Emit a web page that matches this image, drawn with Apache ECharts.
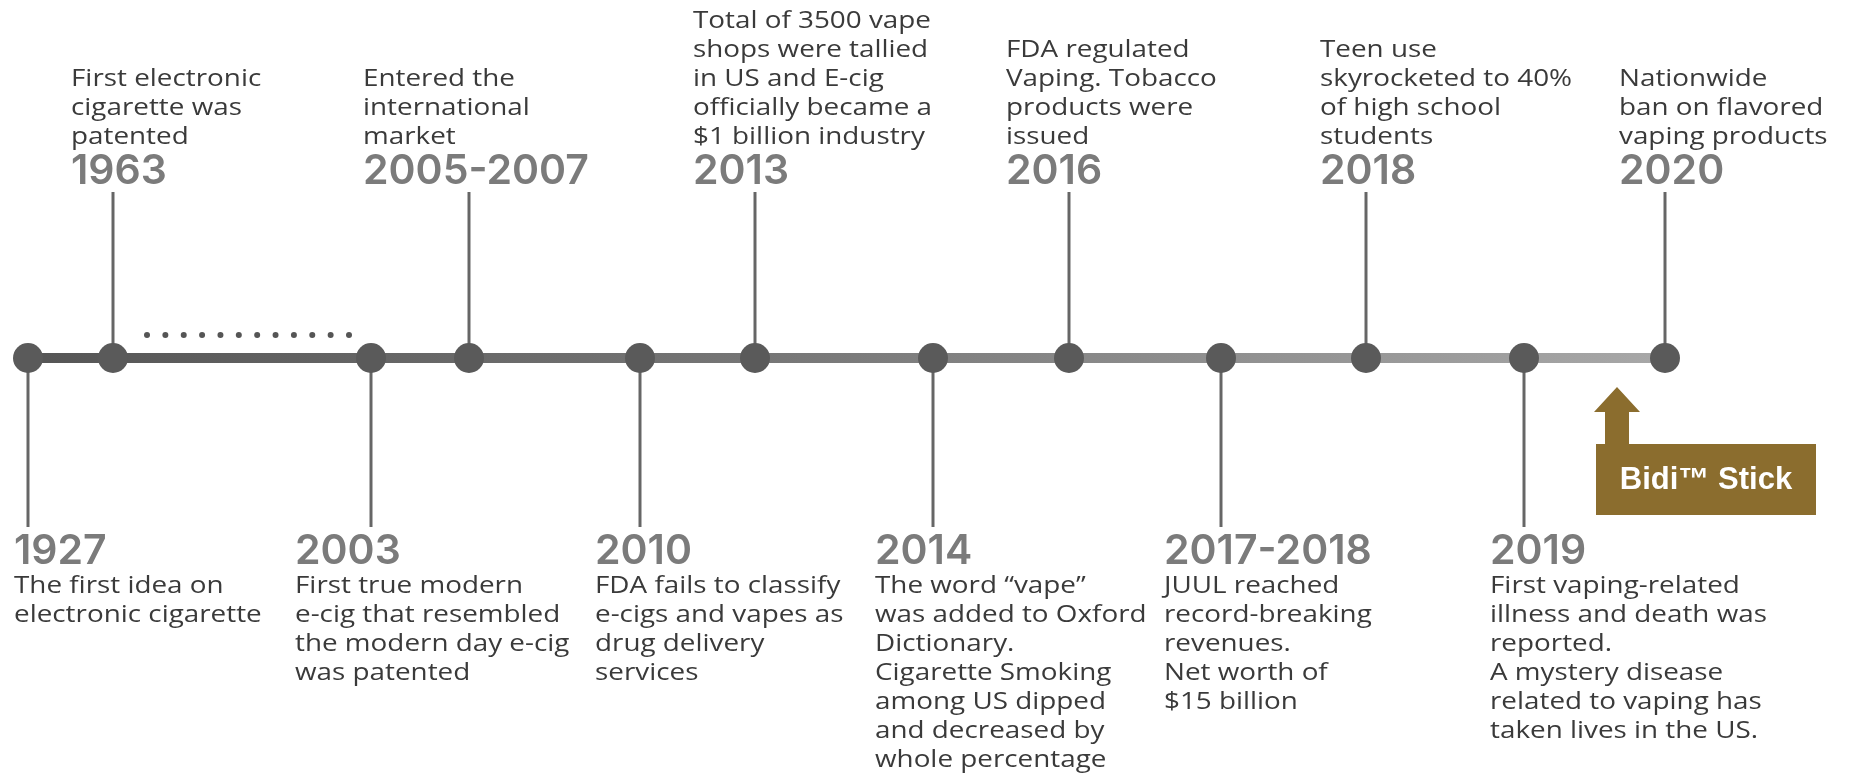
<!DOCTYPE html>
<html>
<head>
<meta charset="utf-8">
<title>E-cigarette timeline</title>
<script src="https://cdn.jsdelivr.net/npm/echarts@6/dist/echarts.min.js"></script>
<style>
  html, body { margin: 0; padding: 0; background: #fff; }
  #timeline { width: 1849px; height: 776px; }
</style>
</head>
<body>
<div id="timeline"></div>
<script>
// timeline events, left to right
var years = ['1927', '1963', '2003', '2005-2007', '2010', '2013', '2014', '2016', '2017-2018', '2018', '2019', '2020'];
// where each event sits along the timeline (units of the x axis)
var timelinePos = [28, 113, 371, 469, 640, 755, 933, 1069, 1221, 1366, 1524, 1665];
var sides = ['below', 'above', 'below', 'above', 'below', 'above', 'below', 'above', 'below', 'above', 'below', 'above'];
var descriptions = [
    ['The first idea on', 'electronic cigarette'],
    ['First electronic', 'cigarette was', 'patented'],
    ['First true modern', 'e-cig that resembled', 'the modern day e-cig', 'was patented'],
    ['Entered the', 'international', 'market'],
    ['FDA fails to classify', 'e-cigs and vapes as', 'drug delivery', 'services'],
    ['Total of 3500 vape', 'shops were tallied', 'in US and E-cig', 'officially became a', '$1 billion industry'],
    ['The word \u201Cvape\u201D', 'was added to Oxford', 'Dictionary.', 'Cigarette Smoking', 'among US dipped', 'and decreased by', 'whole percentage'],
    ['FDA regulated', 'Vaping. Tobacco', 'products were', 'issued'],
    ['JUUL reached', 'record-breaking', 'revenues.', 'Net worth of', '$15 billion'],
    ['Teen use', 'skyrocketed to 40%', 'of high school', 'students'],
    ['First vaping-related', 'illness and death was', 'reported.', 'A mystery disease', 'related to vaping has', 'taken lives in the US.'],
    ['Nationwide', 'ban on flavored', 'vaping products']
];
var calloutText = 'Bidi\u2122 Stick';
var calloutPos = 1617;

// layout (pixels on the hidden y axis)
var LINE_Y = 358;
var STEM_TOP = 192;
var STEM_BOTTOM = 527;
var LINE_H = 29;
var labelShift = [-14, -42, -76, -106, -45, -62, -58, -63, -57, -46, -34, -46];

var FONT = '"Open Sans", "DejaVu Sans", sans-serif';
var YEAR_FONT = '600 41px Inter, "Open Sans", sans-serif';

function renderEvent(params, api) {
    var i = api.value(1);
    var x = api.value(0);
    var up = sides[i] === 'above';
    var base = api.coord([x, LINE_Y]);
    var end = api.coord([x, up ? STEM_TOP : STEM_BOTTOM]);
    var tx = base[0] + labelShift[i];
    var children = [{
        type: 'line',
        shape: {x1: base[0], y1: base[1], x2: end[0], y2: end[1]},
        style: {stroke: '#666666', lineWidth: 3}
    }];
    var yearY, descY, descAlign;
    if (up) {
        yearY = end[1] - 20;
        descY = end[1] - 40;
        descAlign = 'bottom';
    } else {
        yearY = end[1] + 25;
        descY = end[1] + 45;
        descAlign = 'top';
    }
    children.push({
        type: 'text',
        x: tx,
        y: yearY,
        style: {
            text: years[i], x: 0, y: 0,
            font: YEAR_FONT, fill: '#7b7b7b',
            align: 'left', textAlign: 'left',
            verticalAlign: 'middle', textVerticalAlign: 'middle'
        }
    });
    // the source lettering is set wide, so stretch the text a little
    children.push({
        type: 'text',
        x: tx,
        y: descY,
        scaleX: 1.21,
        style: {
            text: descriptions[i].join('\n'), x: 0, y: 0,
            font: '23px ' + FONT, fill: '#3a3a3a', lineHeight: LINE_H,
            align: 'left', textAlign: 'left',
            verticalAlign: descAlign, textVerticalAlign: descAlign
        }
    });
    return {type: 'group', children: children};
}

// row of small dots marking the gap between 1963 and 2003
function renderGap(params, api) {
    var a = api.coord([api.value(0), LINE_Y]);
    var b = api.coord([api.value(1), LINE_Y]);
    var x0 = a[0] + 34, x1 = b[0] - 22, n = 12;
    var dots = [];
    for (var k = 0; k < n; k++) {
        dots.push({
            type: 'circle',
            shape: {cx: x0 + (x1 - x0) * k / (n - 1), cy: a[1] - 23, r: 3},
            style: {fill: '#555555'}
        });
    }
    return {type: 'group', children: dots};
}

function renderCallout(params, api) {
    var p = api.coord([api.value(0), LINE_Y]);
    var cx = p[0];
    var tipY = p[1] + 29;
    var headY = p[1] + 54;
    var boxTop = p[1] + 86;
    var color = '#8b6d2e';
    return {
        type: 'group',
        children: [{
            type: 'polygon',
            shape: {points: [[cx, tipY], [cx + 23, headY], [cx + 12, headY], [cx + 12, boxTop + 1],
                [cx - 12, boxTop + 1], [cx - 12, headY], [cx - 23, headY]]},
            style: {fill: color}
        }, {
            type: 'rect',
            shape: {x: cx - 21, y: boxTop, width: 220, height: 71},
            style: {fill: color}
        }, {
            type: 'text',
            style: {
                text: calloutText, x: cx + 89, y: boxTop + 36,
                font: 'bold 31px "Liberation Sans", Arial, sans-serif', fill: '#ffffff',
                align: 'center', textAlign: 'center',
                verticalAlign: 'middle', textVerticalAlign: 'middle'
            }
        }]
    };
}

var myChart = echarts.init(document.getElementById('timeline'));
myChart.setOption({
    animation: false,
    backgroundColor: '#ffffff',
    grid: {left: 0, right: 0, top: 0, bottom: 0},
    xAxis: {type: 'value', min: 0, max: 1849, show: false},
    yAxis: {type: 'value', min: 0, max: 776, inverse: true, show: false},
    series: [
        {
            name: 'stems',
            type: 'custom',
            renderItem: renderEvent,
            data: years.map(function (y, i) { return [timelinePos[i], i]; }),
            z: 1
        },
        {
            name: 'line',
            type: 'line',
            symbol: 'none',
            data: [[timelinePos[0], LINE_Y], [timelinePos[timelinePos.length - 1], LINE_Y]],
            lineStyle: {
                width: 10,
                color: new echarts.graphic.LinearGradient(0, 0, 1, 0, [
                    {offset: 0, color: '#555555'},
                    {offset: 0.45, color: '#767676'},
                    {offset: 1, color: '#a8a8a8'}
                ])
            },
            z: 2
        },
        {
            name: 'gap',
            type: 'custom',
            renderItem: renderGap,
            data: [[timelinePos[1], timelinePos[2]]],
            z: 2
        },
        {
            name: 'events',
            type: 'scatter',
            symbol: 'circle',
            symbolSize: 30,
            data: timelinePos.map(function (x) { return [x, LINE_Y]; }),
            itemStyle: {color: '#5a5a5a', opacity: 1},
            z: 3
        },
        {
            name: 'callout',
            type: 'custom',
            renderItem: renderCallout,
            data: [[calloutPos]],
            z: 4
        }
    ]
});
</script>
</body>
</html>
